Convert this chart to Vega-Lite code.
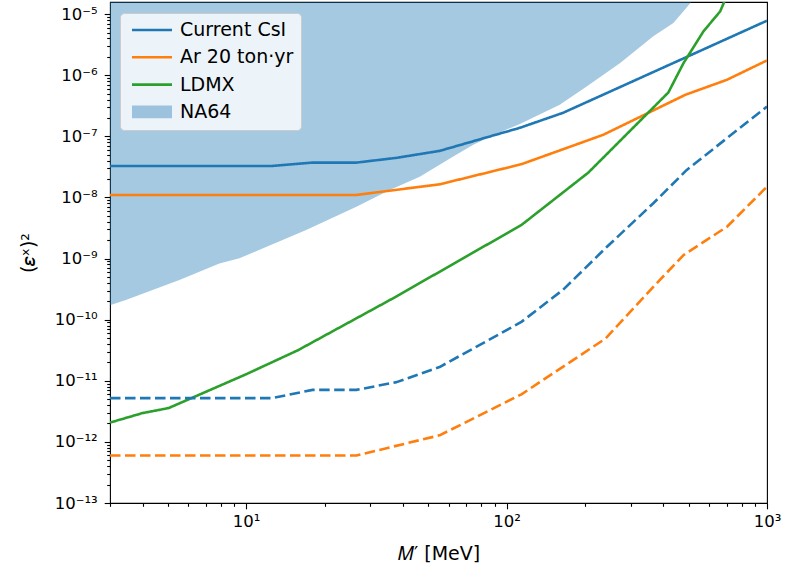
{
  "$schema": "https://vega.github.io/schema/vega-lite/v6.json",
  "width": 657,
  "height": 501,
  "autosize": {"type": "none"},
  "padding": {"left": 110, "top": 2, "right": 18, "bottom": 63},
  "background": "white",
  "config": {
    "font": "DejaVu Sans",
    "view": {"stroke": "#000000", "strokeWidth": 1.1},
    "axis": {
      "domain": false,
      "grid": false,
      "tickColor": "#000000",
      "tickWidth": 1.1,
      "labelColor": "#000000",
      "labelFont": "DejaVu Sans",
      "labelFontSize": 16.5,
      "titleFont": "DejaVu Sans",
      "titleFontSize": 19,
      "titleFontWeight": "normal",
      "titleColor": "#000000",
      "labelOverlap": false,
      "labelFlush": false,
      "labelBound": false
    }
  },
  "datasets": {
    "na64": [
      {"M": 3, "eps2": 1.73e-10},
      {"M": 3.45, "eps2": 2.09e-10},
      {"M": 5.54, "eps2": 4.45e-10},
      {"M": 7.89, "eps2": 8.34e-10},
      {"M": 9.42, "eps2": 1.01e-9},
      {"M": 11.2, "eps2": 1.38e-9},
      {"M": 17.0, "eps2": 2.93e-9},
      {"M": 26.5, "eps2": 7.06e-9},
      {"M": 35.6, "eps2": 1.33e-8},
      {"M": 46.4, "eps2": 2.19e-8},
      {"M": 62.4, "eps2": 4.67e-8},
      {"M": 74.5, "eps2": 7.26e-8},
      {"M": 88.8, "eps2": 1.04e-7},
      {"M": 112.5, "eps2": 1.6e-7},
      {"M": 160, "eps2": 3.28e-7},
      {"M": 203, "eps2": 6.55e-7},
      {"M": 273, "eps2": 1.58e-6},
      {"M": 366, "eps2": 4.33e-6},
      {"M": 437, "eps2": 7.18e-6},
      {"M": 515, "eps2": 1.62e-5},
      {"M": 553, "eps2": 2.3e-5}
    ],
    "curves": [
      {"M": 3, "eps2": 3.28e-8, "series": "Current CsI", "style": "solid"},
      {"M": 12.6, "eps2": 3.28e-8, "series": "Current CsI", "style": "solid"},
      {"M": 18, "eps2": 3.72e-8, "series": "Current CsI", "style": "solid"},
      {"M": 26.5, "eps2": 3.72e-8, "series": "Current CsI", "style": "solid"},
      {"M": 37.8, "eps2": 4.45e-8, "series": "Current CsI", "style": "solid"},
      {"M": 55.3, "eps2": 5.78e-8, "series": "Current CsI", "style": "solid"},
      {"M": 112.5, "eps2": 1.38e-7, "series": "Current CsI", "style": "solid"},
      {"M": 164.8, "eps2": 2.43e-7, "series": "Current CsI", "style": "solid"},
      {"M": 494, "eps2": 2.01e-6, "series": "Current CsI", "style": "solid"},
      {"M": 1000, "eps2": 7.82e-6, "series": "Current CsI", "style": "solid"},

      {"M": 3, "eps2": 1.1e-8, "series": "Ar 20 ton·yr", "style": "solid"},
      {"M": 12.6, "eps2": 1.1e-8, "series": "Ar 20 ton·yr", "style": "solid"},
      {"M": 26.5, "eps2": 1.1e-8, "series": "Ar 20 ton·yr", "style": "solid"},
      {"M": 55.3, "eps2": 1.64e-8, "series": "Ar 20 ton·yr", "style": "solid"},
      {"M": 114, "eps2": 3.5e-8, "series": "Ar 20 ton·yr", "style": "solid"},
      {"M": 235, "eps2": 1.06e-7, "series": "Ar 20 ton·yr", "style": "solid"},
      {"M": 486, "eps2": 4.79e-7, "series": "Ar 20 ton·yr", "style": "solid"},
      {"M": 702, "eps2": 8.43e-7, "series": "Ar 20 ton·yr", "style": "solid"},
      {"M": 1000, "eps2": 1.75e-6, "series": "Ar 20 ton·yr", "style": "solid"},

      {"M": 3, "eps2": 2.07e-12, "series": "LDMX", "style": "solid"},
      {"M": 4, "eps2": 2.96e-12, "series": "LDMX", "style": "solid"},
      {"M": 5.04, "eps2": 3.58e-12, "series": "LDMX", "style": "solid"},
      {"M": 10, "eps2": 1.28e-11, "series": "LDMX", "style": "solid"},
      {"M": 15.8, "eps2": 3.16e-11, "series": "LDMX", "style": "solid"},
      {"M": 36.6, "eps2": 2.23e-10, "series": "LDMX", "style": "solid"},
      {"M": 114, "eps2": 3.54e-9, "series": "LDMX", "style": "solid"},
      {"M": 206, "eps2": 2.55e-8, "series": "LDMX", "style": "solid"},
      {"M": 418, "eps2": 5.22e-7, "series": "LDMX", "style": "solid"},
      {"M": 478, "eps2": 1.58e-6, "series": "LDMX", "style": "solid"},
      {"M": 570, "eps2": 5.22e-6, "series": "LDMX", "style": "solid"},
      {"M": 661, "eps2": 1.11e-5, "series": "LDMX", "style": "solid"},
      {"M": 691, "eps2": 1.73e-5, "series": "LDMX", "style": "solid"},

      {"M": 3, "eps2": 5.2e-12, "series": "Current CsI", "style": "dashed"},
      {"M": 12.6, "eps2": 5.2e-12, "series": "Current CsI", "style": "dashed"},
      {"M": 18, "eps2": 7.1e-12, "series": "Current CsI", "style": "dashed"},
      {"M": 26.5, "eps2": 7.1e-12, "series": "Current CsI", "style": "dashed"},
      {"M": 37.8, "eps2": 9.5e-12, "series": "Current CsI", "style": "dashed"},
      {"M": 55.3, "eps2": 1.68e-11, "series": "Current CsI", "style": "dashed"},
      {"M": 114, "eps2": 9.2e-11, "series": "Current CsI", "style": "dashed"},
      {"M": 165, "eps2": 3.1e-10, "series": "Current CsI", "style": "dashed"},
      {"M": 243, "eps2": 1.56e-9, "series": "Current CsI", "style": "dashed"},
      {"M": 366, "eps2": 8.04e-9, "series": "Current CsI", "style": "dashed"},
      {"M": 492, "eps2": 2.82e-8, "series": "Current CsI", "style": "dashed"},
      {"M": 1000, "eps2": 3.08e-7, "series": "Current CsI", "style": "dashed"},

      {"M": 3, "eps2": 6.0e-13, "series": "Ar 20 ton·yr", "style": "dashed"},
      {"M": 26.5, "eps2": 6.0e-13, "series": "Ar 20 ton·yr", "style": "dashed"},
      {"M": 55.3, "eps2": 1.28e-12, "series": "Ar 20 ton·yr", "style": "dashed"},
      {"M": 114, "eps2": 6.0e-12, "series": "Ar 20 ton·yr", "style": "dashed"},
      {"M": 240, "eps2": 4.92e-11, "series": "Ar 20 ton·yr", "style": "dashed"},
      {"M": 366, "eps2": 3.45e-10, "series": "Ar 20 ton·yr", "style": "dashed"},
      {"M": 478, "eps2": 1.14e-9, "series": "Ar 20 ton·yr", "style": "dashed"},
      {"M": 702, "eps2": 3.32e-9, "series": "Ar 20 ton·yr", "style": "dashed"},
      {"M": 1000, "eps2": 1.5e-8, "series": "Ar 20 ton·yr", "style": "dashed"}
    ]
  },
  "encoding": {
    "x": {
      "field": "M",
      "type": "quantitative",
      "scale": {"type": "log", "domain": [3, 1000], "nice": false},
      "axis": {
        "title": "𝑀′ [MeV]",
        "titleX": 328.5,
        "titleY": 50,
        "titleBaseline": "middle",
        "values": [3, 4, 5, 6, 7, 8, 9, 10, 20, 30, 40, 50, 60, 70, 80, 90, 100, 200, 300, 400, 500, 600, 700, 800, 900, 1000],
        "labelExpr": "datum.value == 10 ? '10¹' : datum.value == 100 ? '10²' : datum.value == 1000 ? '10³' : ''",
        "labelPadding": 5,
        "tickSize": {"condition": {"test": "datum.value == 10 || datum.value == 100 || datum.value == 1000", "value": 5.8}, "value": 3.3}
      }
    },
    "y": {
      "field": "eps2",
      "type": "quantitative",
      "scale": {"type": "log", "domain": [1e-13, 1.58e-5], "nice": false},
      "axis": {
        "title": "(𝜀ˣ)²",
        "titleX": -82,
        "titleY": 250.5,
        "titleAngle": -90,
        "titleBaseline": "middle",
        "titleAlign": "center",
        "values": [1e-13, 2e-13, 3e-13, 4e-13, 5e-13, 6e-13, 7e-13, 8e-13, 9e-13,
                   1e-12, 2e-12, 3e-12, 4e-12, 5e-12, 6e-12, 7e-12, 8e-12, 9e-12,
                   1e-11, 2e-11, 3e-11, 4e-11, 5e-11, 6e-11, 7e-11, 8e-11, 9e-11,
                   1e-10, 2e-10, 3e-10, 4e-10, 5e-10, 6e-10, 7e-10, 8e-10, 9e-10,
                   1e-9, 2e-9, 3e-9, 4e-9, 5e-9, 6e-9, 7e-9, 8e-9, 9e-9,
                   1e-8, 2e-8, 3e-8, 4e-8, 5e-8, 6e-8, 7e-8, 8e-8, 9e-8,
                   1e-7, 2e-7, 3e-7, 4e-7, 5e-7, 6e-7, 7e-7, 8e-7, 9e-7,
                   1e-6, 2e-6, 3e-6, 4e-6, 5e-6, 6e-6, 7e-6, 8e-6, 9e-6,
                   1e-5],
        "labelExpr": "abs(log(datum.value) / LN10 - round(log(datum.value) / LN10)) < 0.01 ? ['10⁻¹³', '10⁻¹²', '10⁻¹¹', '10⁻¹⁰', '10⁻⁹', '10⁻⁸', '10⁻⁷', '10⁻⁶', '10⁻⁵'][round(log(datum.value) / LN10) + 13] : ''",
        "labelPadding": 7,
        "tickSize": {"condition": {"test": "abs(log(datum.value) / LN10 - round(log(datum.value) / LN10)) < 0.01", "value": 5.8}, "value": 3.3}
      }
    }
  },
  "layer": [
    {
      "data": {"name": "na64"},
      "mark": {"type": "area", "color": "#1f77b4", "fillOpacity": 0.4, "clip": true},
      "encoding": {"y2": {"datum": 1e-4}}
    },
    {
      "data": {"name": "curves"},
      "mark": {"type": "line", "strokeWidth": 2.6, "strokeJoin": "round", "clip": true},
      "encoding": {
        "color": {
          "field": "series",
          "type": "nominal",
          "scale": {
            "domain": ["Current CsI", "Ar 20 ton·yr", "LDMX", "NA64"],
            "range": ["#1f77b4", "#ff7f0e", "#2ca02c", "#9cc2de"]
          },
          "legend": {
            "title": null,
            "orient": "none",
            "legendX": 10,
            "legendY": 11,
            "symbolType": "M-5,0H5",
            "symbolSize": 64,
            "symbolStrokeWidth": 2.6,
            "symbolOffset": 15,
            "labelOffset": 18.5,
            "labelFont": "DejaVu Sans",
            "labelFontSize": 19,
            "labelColor": "#000000",
            "rowPadding": 7.3,
            "padding": 7.5,
            "fillColor": "rgba(255,255,255,0.8)",
            "strokeColor": "#cccccc",
            "cornerRadius": 4,
            "encode": {
              "symbols": {
                "update": {
                  "shape": {"signal": "datum.value === 'NA64' ? 'M-5,-1.6H5V1.6H-5Z' : 'M-5,0H5'"},
                  "fill": {"signal": "datum.value === 'NA64' ? '#9cc2de' : 'transparent'"},
                  "strokeWidth": {"signal": "datum.value === 'NA64' ? 0 : 2.6"}
                }
              }
            }
          }
        },
        "strokeDash": {
          "field": "style",
          "type": "nominal",
          "scale": {"domain": ["solid", "dashed"], "range": [[1, 0], [10.5, 4.5]]},
          "legend": null
        }
      }
    }
  ]
}
